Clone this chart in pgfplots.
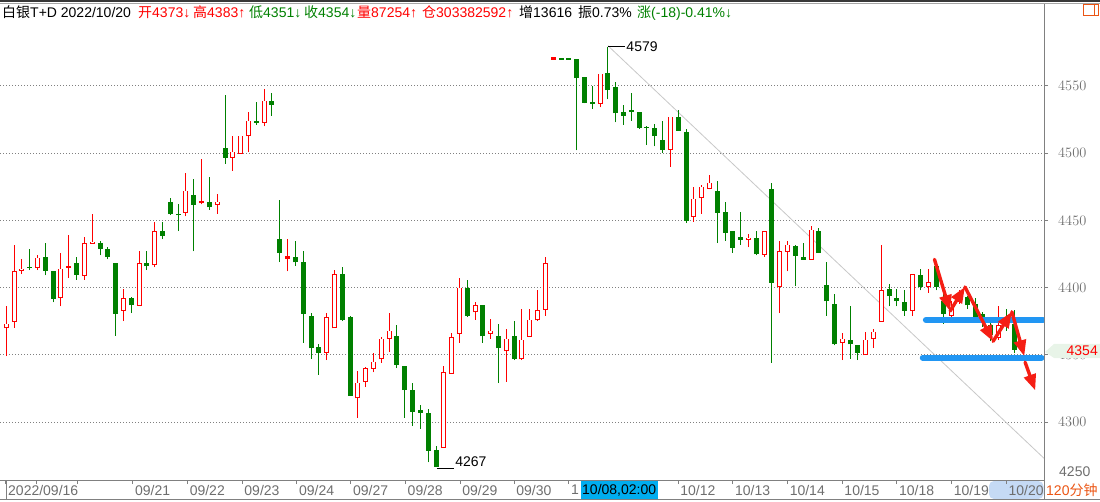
\documentclass[border=0pt]{standalone}
\usepackage{pgfplots}
\pgfplotsset{compat=1.18}
\usepackage{pgfplotstable}
\usepackage{fontspec}
\setmainfont{Liberation Sans}
\newfontfamily\cjk{Noto Sans CJK SC}
\usetikzlibrary{arrows.meta}
\definecolor{kred}{RGB}{255,0,0}
\definecolor{kgreen}{RGB}{0,128,0}
\definecolor{axgray}{RGB}{128,128,128}
\definecolor{lblgray}{RGB}{110,110,110}
\definecolor{trend}{RGB}{200,200,200}
\definecolor{hblue}{RGB}{33,150,243}
\definecolor{tagbg}{RGB}{232,244,232}
\definecolor{orng}{RGB}{235,85,20}
\definecolor{selblue}{RGB}{197,218,245}
\definecolor{arrred}{RGB}{245,30,20}
\newcommand\fs{\fontsize{14pt}{16pt}\selectfont}

\pgfplotstableread{
i o h l c k
0 4370 4386 4349 4373 1
1 4375 4432 4370 4412 1
2 4413 4421 4410 4414 1
3 4415 4429 4413 4415 0
4 4415 4424 4413 4422 1
5 4423 4433 4409 4413 0
6 4412 4412 4389 4392 0
7 4393 4426 4386 4414 1
8 4415 4439 4407 4415 1
9 4418 4423 4406 4410 0
10 4409 4438 4406 4433 1
11 4433 4455 4433 4434 1
12 4433 4435 4424 4429 0
13 4429 4430 4421 4423 0
14 4418 4418 4364 4381 0
15 4383 4399 4375 4392 1
16 4392 4393 4381 4387 0
17 4387 4427 4387 4418 1
18 4418 4427 4413 4416 0
19 4417 4449 4415 4442 1
20 4442 4449 4436 4439 0
21 4464 4467 4454 4455 0
22 4455 4462 4442 4454 0
23 4456 4485 4453 4472 1
24 4469 4481 4427 4462 0
25 4463 4496 4462 4463 1
26 4464 4482 4458 4460 0
27 4462 4470 4455 4464 1
28 4504 4543 4492 4497 0
29 4497 4513 4487 4501 1
30 4500 4513 4500 4513 1
31 4513 4531 4501 4524 1
32 4524 4538 4521 4523 0
33 4523 4548 4520 4539 1
34 4539 4545 4528 4536 0
35 4436 4465 4419 4426 0
36 4422 4436 4412 4422 1
37 4423 4435 4416 4419 0
38 4419 4427 4359 4381 0
39 4379 4381 4347 4355 0
40 4356 4358 4335 4352 0
41 4352 4381 4346 4378 1
42 4370 4413 4370 4410 1
43 4410 4415 4375 4376 0
44 4378 4379 4320 4320 0
45 4318 4338 4303 4329 1
46 4330 4341 4326 4340 1
47 4340 4351 4337 4345 1
48 4347 4363 4344 4362 1
49 4362 4381 4352 4368 1
50 4364 4372 4340 4343 0
51 4342 4342 4303 4324 0
52 4324 4329 4297 4308 0
53 4309 4313 4295 4307 0
54 4307 4310 4270 4279 0
55 4279 4282 4267 4267 0
56 4281 4342 4281 4337 1
57 4336 4366 4336 4363 1
58 4366 4407 4359 4400 1
59 4400 4406 4378 4379 0
60 4382 4389 4376 4387 1
61 4387 4387 4359 4364 0
62 4366 4377 4362 4368 1
63 4364 4373 4329 4355 0
64 4353 4369 4330 4362 1
65 4364 4375 4346 4347 0
66 4347 4384 4346 4361 1
67 4364 4384 4364 4376 1
68 4376 4398 4375 4383 1
69 4384 4423 4379 4418 1
70 4570 4570 4570 4570 1
71 4570 4570 4570 4570 0
72 4570 4570 4570 4570 0
73 4570 4570 4502 4556 0
74 4557 4557 4537 4538 0
75 4538 4550 4533 4537 0
76 4537 4559 4534 4559 1
77 4560 4579 4540 4547 0
78 4549 4553 4523 4530 0
79 4531 4536 4521 4528 0
80 4532 4545 4524 4531 0
81 4531 4531 4518 4519 0
82 4519 4520 4506 4519 0
83 4519 4522 4505 4513 0
84 4510 4524 4500 4503 0
85 4503 4527 4490 4527 1
86 4527 4532 4517 4517 0
87 4516 4518 4448 4450 0
88 4453 4475 4449 4466 1
89 4467 4476 4455 4475 1
90 4474 4484 4473 4478 1
91 4472 4479 4433 4456 0
92 4456 4464 4435 4441 0
93 4442 4442 4426 4430 0
94 4438 4456 4432 4436 0
95 4436 4440 4430 4437 1
96 4437 4442 4424 4425 0
97 4425 4442 4423 4442 1
98 4473 4478 4344 4404 0
99 4401 4435 4381 4427 1
100 4427 4435 4412 4432 1
101 4431 4432 4401 4424 0
102 4423 4433 4421 4421 0
103 4421 4446 4421 4443 1
104 4442 4444 4426 4426 0
105 4402 4419 4379 4390 0
106 4388 4395 4357 4358 0
107 4359 4366 4346 4362 1
108 4361 4386 4347 4358 0
109 4357 4357 4346 4352 0
110 4350 4367 4350 4361 1
111 4362 4369 4355 4367 1
112 4375 4432 4375 4398 1
113 4399 4403 4386 4394 0
114 4392 4399 4386 4390 0
115 4389 4398 4379 4383 0
116 4383 4410 4379 4410 1
117 4409 4414 4398 4401 0
118 4401 4414 4396 4404 1
119 4416 4418 4398 4401 0
120 4390 4395 4373 4381 0
121 4379 4390 4378 4385 1
122 4390 4398 4388 4395 1
123 4393 4394 4384 4387 0
124 4388 4392 4375 4378 0
125 4380 4382 4371 4376 0
126 4372 4376 4360 4365 0
127 4363 4386 4361 4372 1
128 4378 4384 4368 4373 0
129 4373 4383 4351 4354 0
}\candles

\pgfplotsset{
  redrows/.style={restrict expr to domain={\thisrow{k}}{0.5:1.5}},
  greenrows/.style={restrict expr to domain={\thisrow{k}}{-0.5:0.5}},
  ebar/.style 2 args={draw=none, mark=none, forget plot,
    error bars/.cd, y dir=plus, y explicit, error mark=none,
    error bar style={draw=#1, solid, line width=#2}, /pgfplots/.cd},
}

\begin{document}
\begin{tikzpicture}[x=1pt,y=1pt]
% top band
\fill[black!78] (0,499) rectangle (1100,501);
\draw[black!35, line width=0.8pt] (0,497.6) -- (1100,497.6);
% time-row highlight boxes (behind tick labels)
\fill[selblue, rounded corners=5pt] (989,2) rectangle (1043.5,20);

\begin{axis}[
  at={(0pt,21pt)}, anchor=south west,
  scale only axis, width=1044pt, height=476pt,
  xmin=-0.806, xmax=132.82, ymin=4256.85, ymax=4611.0,
  enlargelimits=false,
  axis x line*=bottom, axis y line*=right,
  axis line style={draw=axgray, line width=1pt},
  tick align=outside, major tick length=4pt,
  tick style={draw=axgray, line width=1pt},
  ytick={4300,4350,4400,4450,4500,4550},
  yticklabel style={anchor=west, inner sep=0pt, xshift=10pt, text=lblgray, font=\fs},
  yticklabel={\pgfmathprintnumber[fixed,1000 sep={}]{\tick}},
  ymajorgrids,
  grid style={draw=axgray, line width=1pt, dash pattern=on 1pt off 2pt},
  xtick={-0.04,3.9,9.05,16.2,23.2,30.2,37.2,44.1,51.1,58.1,65,72,79,86,93,100,107,114,121,128},
  xticklabels={2022/09/16,,,09/21,09/22,09/23,09/24,09/27,09/28,09/29,09/30,1,,10/12,10/13,10/14,10/15,10/18,10/19,10/20},
  xticklabel style={anchor=west, inner sep=0pt, xshift=2pt, yshift=-6pt, text=lblgray, font=\fs},
]
% trend line (annotation)
\addplot[trend, line width=0.8pt, forget plot] coordinates {(77,4580) (132.82,4273)};

% wicks
\addplot[redrows, ebar={kred}{1pt}] table[x=i, y=l, y error plus expr={\thisrow{h}-\thisrow{l}}] {\candles};
\addplot[greenrows, ebar={kgreen}{1pt}] table[x=i, y=l, y error plus expr={\thisrow{h}-\thisrow{l}}] {\candles};
% bodies
\addplot[greenrows, ebar={kgreen}{5pt}] table[x=i, y expr={min(\thisrow{o},\thisrow{c})-0.3}, y error plus expr={max(abs(\thisrow{c}-\thisrow{o}),0.6)+0.3}] {\candles};
\addplot[redrows, ebar={kred}{5pt}] table[x=i, y expr={min(\thisrow{o},\thisrow{c})-0.4}, y error plus expr={max(abs(\thisrow{c}-\thisrow{o}),1.2)+0.4}] {\candles};
\addplot[redrows, ebar={white}{3pt}] table[x=i, y expr={min(\thisrow{o},\thisrow{c})+0.35}, y error plus expr={max(abs(\thisrow{c}-\thisrow{o})-0.7,0)}] {\candles};

% high / low labels
\draw[black, line width=0.8pt] (axis cs:77,4579.5) -- (axis cs:79.2,4579.5) node[anchor=west, inner sep=1pt, font=\fs]{4579};
\draw[black, line width=0.8pt] (axis cs:55.1,4265.8) -- (axis cs:57.3,4265.8) node[anchor=south west, inner sep=1pt, font=\fs]{4267};

% support lines
\draw[hblue, line width=6pt, line cap=round] (axis cs:117.7,4375.9) -- (axis cs:132.7,4375.9);
\draw[hblue, line width=6pt, line cap=round] (axis cs:117.3,4347.8) -- (axis cs:132.5,4347.8);

% red arrows
\begin{scope}[arrred, line width=3.4pt, line cap=round, line join=round,
  >={Triangle[width=12pt,length=16pt]}]
\draw[->] (axis cs:118.8,4421) -- (axis cs:120.8,4382.5);
\draw[->] (axis cs:120.8,4382.5) -- (axis cs:122.7,4400.5);
\draw[->] (axis cs:122.7,4400.5) -- (axis cs:126.3,4360);
\draw[->] (axis cs:126.3,4360) -- (axis cs:128.7,4382);
\draw[->] (axis cs:128.7,4382) -- (axis cs:130.3,4349);
\draw[->] (axis cs:130.4,4344.5) -- (axis cs:131.7,4323.5);
\end{scope}
\end{axis}

% right axis extension, time row
\draw[axgray, line width=1pt] (1044,21) -- (1044,2);
\draw[axgray, line width=1pt] (0,1.5) -- (1100,1.5);
\draw[axgray, line width=1pt] (6,2) -- (6,21);
\fill[cyan] (581,2) rectangle (658,20);
\node[anchor=west, inner sep=0pt, font=\fs] at (582,11) {10/08,02:00};
\node[anchor=west, inner sep=0pt, font=\fs, text=orng] at (1046,11) {120\cjk 分钟};

% 4250 label
\node[anchor=west, inner sep=0pt, font=\fs, text=lblgray] at (1059,29) {4250};
% last price tag
\fill[tagbg] (1045,149) -- (1054,157) -- (1100,157) -- (1100,143) -- (1054,143) -- cycle;
\node[anchor=east, inner sep=0pt, font=\fs, text=kred] at (1098,150) {4354};

% icon
\draw[orng, line width=1pt] (1083.5,485) rectangle (1098,496);
\draw[orng, line width=1pt] (1094,485) -- (1094,496);

% header
\begin{scope}[every node/.style={anchor=base west, inner sep=0pt, font=\fs}]
\node at (2,483) {{\cjk 白银}T+D 2022/10/20};
\node[text=kred] at (138,483) {{\cjk 开}4373↓};
\node[text=kred] at (193,483) {{\cjk 高}4383↑};
\node[text=kgreen] at (249,483) {{\cjk 低}4351↓};
\node[text=kgreen] at (304,483) {{\cjk 收}4354↓};
\node[text=kred] at (357,483) {{\cjk 量}87254↑};
\node[text=kred] at (422,483) {{\cjk 仓}303382592↑};
\node at (519,483) {{\cjk 增}13616};
\node at (578,483) {{\cjk 振}0.73\%};
\node[text=kgreen] at (637,483) {{\cjk 涨}(-18)-0.41\%↓};
\end{scope}

\pgfresetboundingbox
\path (0,0) rectangle (1100,501);
\end{tikzpicture}
\end{document}
